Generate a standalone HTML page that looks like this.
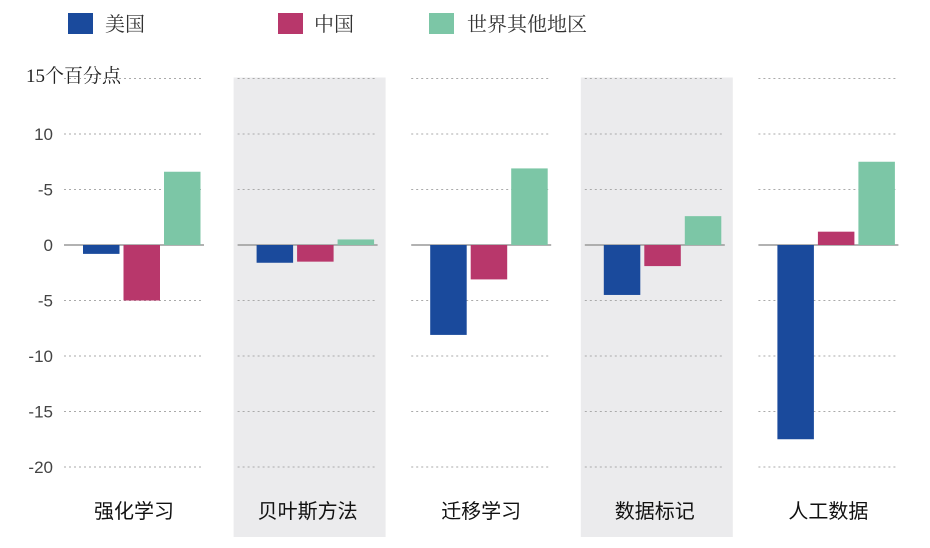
<!DOCTYPE html>
<html><head><meta charset="utf-8">
<style>
body{margin:0;background:#fff;}
svg{display:block;font-family:"Liberation Sans","Noto Sans CJK SC",sans-serif;}
</style></head><body>
<svg id="chart" width="930" height="548" viewBox="0 0 930 548" xmlns="http://www.w3.org/2000/svg">
<g>
 <rect x="68" y="13" width="25" height="21" fill="#1a4a9c"/>
 <text x="105" y="31" font-size="20" fill="#333" font-family="Noto Serif CJK SC, serif">美国</text>
 <rect x="278" y="13" width="25" height="21" fill="#b8376b"/>
 <text x="314" y="31" font-size="20" fill="#333" font-family="Noto Serif CJK SC, serif">中国</text>
 <rect x="429" y="13" width="25" height="21" fill="#7cc6a6"/>
 <text x="467" y="31" font-size="20" fill="#333" font-family="Noto Serif CJK SC, serif">世界其他地区</text>
</g>
<text x="26" y="82" font-size="19" fill="#222" font-family="Liberation Serif, Noto Serif CJK SC, serif">15个百分点</text>
<g id="panels"></g>
<g id="grid"></g>
<g id="bars"></g>
<g id="labels"></g>
</svg>
<script>
const categories=["强化学习","贝叶斯方法","迁移学习","数据标记","人工数据"];
const usValues=[-0.8,-1.6,-8.1,-4.5,-17.5];
const cnValues=[-5.0,-1.5,-3.1,-1.9,1.2];
const rowValues=[6.6,0.5,6.9,2.6,7.5];
const tickValues=[10,5,0,-5,-10,-15,-20];
const tickLabels=["10","-5","0","-5","-10","-15","-20"];
const topValue=15;

const NS="http://www.w3.org/2000/svg";
const y=v=>245-v*11.1;
const panelX=i=>64+i*173.6;
const PW=144;
function mk(tag,attrs,parent){const e=document.createElementNS(NS,tag);for(const k in attrs)e.setAttribute(k,attrs[k]);document.getElementById(parent).appendChild(e);return e;}

categories.forEach((c,i)=>{
  if(i%2===1){
    const p=mk('rect',{x:panelX(i)-4,y:y(topValue)-1,width:PW+8,height:538-y(topValue),fill:'#ebebed'},'panels');
    
    
  }
  [topValue,...tickValues].forEach(t=>{
    if(t===0)return;
    const g=mk('line',{x1:panelX(i),x2:panelX(i)+PW-4,y1:y(t),y2:y(t),stroke:'#aaa','stroke-width':1,'stroke-dasharray':'2,3'},'grid');
    
    
  });
  const z=mk('line',{x1:panelX(i),x2:panelX(i)+PW-4,y1:y(0),y2:y(0),stroke:'#999','stroke-width':1.5},'grid');
  
  
  const series=[[usValues,'#1a4a9c','us'],[cnValues,'#b8376b','cn'],[rowValues,'#7cc6a6','row']];
  series.forEach((s,j)=>{
    const v=s[0][i];
    const bx=panelX(i)+19+j*40.5;
    const r=mk('rect',{x:bx,y:Math.min(y(v),y(0)),width:36.5,height:Math.abs(y(v)-y(0)),fill:s[1]},'bars');
    
    
  });
  const t=mk('text',{x:panelX(i)+PW/2-2,y:518,'font-size':20,fill:'#111','text-anchor':'middle','font-family':'Noto Sans CJK SC, sans-serif'},'labels');
  t.textContent=c;
  
  
});
tickValues.forEach((t,k)=>{
  const e=mk('text',{x:53,y:y(t)+6,'font-size':17,fill:'#444','text-anchor':'end'},'labels');
  e.textContent=tickLabels[k];
  
  
});
</script>
</body></html>
